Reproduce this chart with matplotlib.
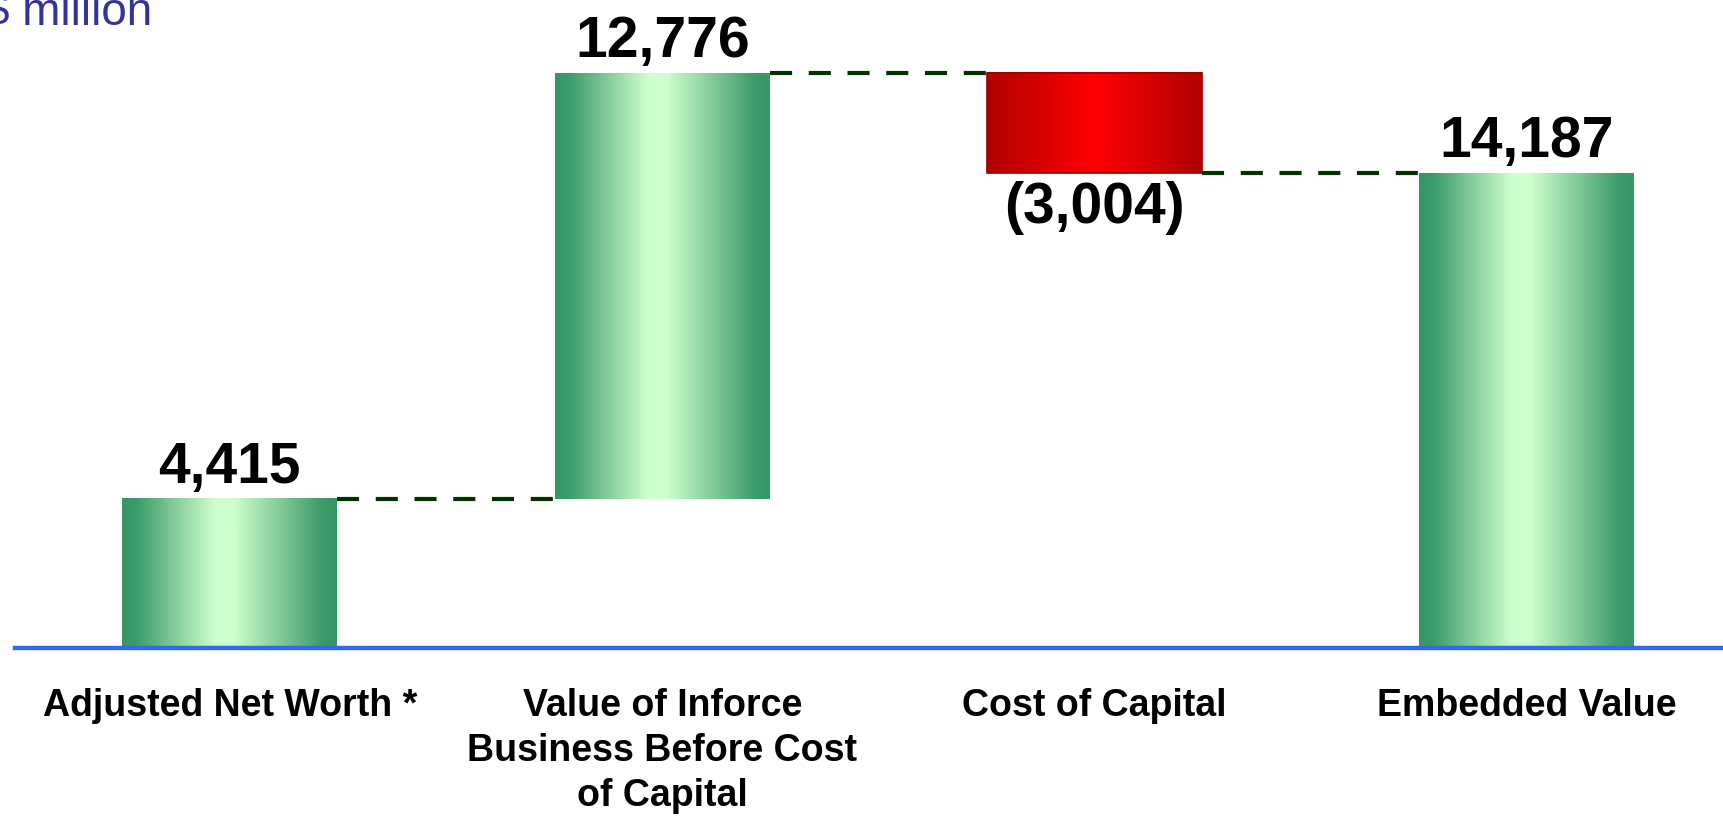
import numpy as np
import matplotlib
matplotlib.use("Agg")
import matplotlib.pyplot as plt
from matplotlib.colors import LinearSegmentedColormap
from matplotlib.patches import Rectangle

# ---- data ----
categories = ["Adjusted Net Worth *", "Value of Inforce\nBusiness Before Cost\nof Capital",
              "Cost of Capital", "Embedded Value"]
values = [4415, 12776, -3004, 14187]
kinds = ["total", "delta", "delta", "total"]
value_labels = ["4,415", "12,776", "(3,004)", "14,187"]
unit_label = "$ million"

plt.rcParams['font.family'] = ['Liberation Sans', 'DejaVu Sans']

W, H = 1724, 824
fig = plt.figure(figsize=(W / 100, H / 100), dpi=100)
base_px = 646
ax = fig.add_axes([15 / W, (H - base_px) / H, (W - 15) / W, base_px / H])
ax.set_xlim(-0.497, 3.456)
ax.set_ylim(0, base_px * 30.0)
ax.axis('off')

green_cmap = LinearSegmentedColormap.from_list(
    "g", [(0, '#369665'), (0.06, '#3a9a68'), (0.43, '#ccffcc'), (0.52, '#ccffcc'),
          (0.94, '#3a9a68'), (1, '#369665')])
red_cmap = LinearSegmentedColormap.from_list(
    "r", [(0, '#b00000'), (0.5, '#ff0000'), (1, '#b00000')])

width = 0.497
grad = np.linspace(0, 1, 256).reshape(1, -1)

# compute bar extents
bottoms, tops = [], []
running = 0
for v, k in zip(values, kinds):
    if k == "total":
        b, t = 0, v
        running = v
    else:
        b, t = sorted([running, running + v])
        running = running + v
    bottoms.append(b)
    tops.append(t)

for i, (b, t, v) in enumerate(zip(bottoms, tops, values)):
    cmap = red_cmap if v < 0 else green_cmap
    x0, x1 = i - width / 2, i + width / 2
    ax.imshow(grad, cmap=cmap, aspect='auto', extent=[x0, x1, b, t],
              interpolation='bicubic', zorder=2)
    if v < 0:
        ax.add_patch(Rectangle((x0, b), width, t - b, fill=False,
                               edgecolor='#990000', lw=1.2, zorder=3))

# connectors
running = 0
levels = []
for v, k in zip(values, kinds):
    running = v if k == "total" else running + v
    levels.append(running)
for i in range(len(values) - 1):
    ax.plot([i + width / 2, i + 1 - width / 2], [levels[i], levels[i]],
            color='#003300', lw=3.0, linestyle=(0, (5.3, 4.0)),
            solid_capstyle='butt', dash_capstyle='butt', zorder=3)

# baseline (drawn just below bar bottoms)
ax.axhline(-1.6 * 30.0, color='#3366ff', lw=3.2, zorder=4, clip_on=False)

# value labels
for i, (b, t, v, lab) in enumerate(zip(bottoms, tops, values, value_labels)):
    if v < 0:
        ax.annotate(lab, (i, b), xytext=(0, -6), textcoords='offset points',
                    ha='center', va='top', fontsize=41, fontweight='bold',
                    color='black', annotation_clip=False)
    else:
        ax.annotate(lab, (i, t), xytext=(0, 3), textcoords='offset points',
                    ha='center', va='bottom', fontsize=41, fontweight='bold',
                    color='black', annotation_clip=False)

# category labels
for i, c in enumerate(categories):
    ax.annotate(c, (i, 0), xytext=(0, -30), textcoords='offset points',
                ha='center', va='top', fontsize=27, fontweight='bold',
                linespacing=1.32, color='black', annotation_clip=False)

fig.text(-16 / W, 1 - 25 / H, unit_label, fontsize=33, color='#333399',
         ha='left', va='baseline')

fig.savefig("out.png", dpi=100, facecolor='white')
